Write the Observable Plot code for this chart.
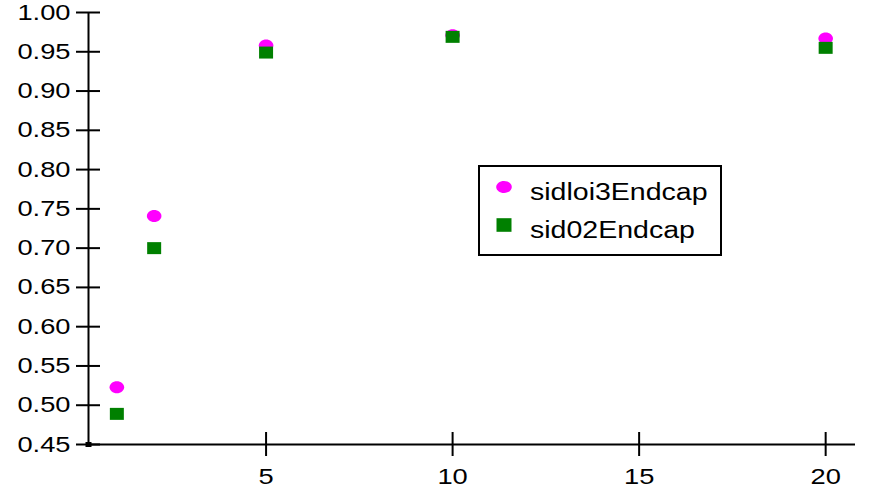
<!DOCTYPE html>
<html>
<head>
<meta charset="utf-8">
<script src="https://cdn.jsdelivr.net/npm/d3@7"></script>
<script src="https://cdn.jsdelivr.net/npm/@observablehq/plot@0.6"></script>
<style>
  html, body { margin: 0; padding: 0; background: #fff; }
  #chart { position: relative; width: 869px; height: 493px; }
  #chart svg { display: block; }
  #legend { position: absolute; }
</style>
</head>
<body>
<div id="chart"></div>
<script>
// Efficiency vs. x for the two endcap geometries
const xValues = [1, 2, 5, 10, 20];
const sidloi3Endcap = [0.523, 0.741, 0.958, 0.971, 0.967];
const sid02Endcap   = [0.489, 0.700, 0.949, 0.969, 0.955];

const seriesNames  = ["sidloi3Endcap", "sid02Endcap"];
const seriesColors = ["#ff00ff", "#008000"];
const seriesShapes = ["ellipse", "rect"];

const xTicks = [5, 10, 15, 20];
const yTicks = [0.45, 0.50, 0.55, 0.60, 0.65, 0.70, 0.75, 0.80, 0.85, 0.90, 0.95, 1.00];
const xDomain = [0.24, 20.8];
const yDomain = [0.45, 1.00];

// Horizontal stretch applied to all text glyphs
const STRETCH = 1.24;

// Custom marker shapes (slightly wider than tall)
function ellipseSymbol(rx, ry) {
  const k = 0.5523;
  return {
    draw(ctx) {
      ctx.moveTo(rx, 0);
      ctx.bezierCurveTo(rx, ry * k, rx * k, ry, 0, ry);
      ctx.bezierCurveTo(-rx * k, ry, -rx, ry * k, -rx, 0);
      ctx.bezierCurveTo(-rx, -ry * k, -rx * k, -ry, 0, -ry);
      ctx.bezierCurveTo(rx * k, -ry, rx, -ry * k, rx, 0);
      ctx.closePath();
    }
  };
}
function rectSymbol(hw, hh) {
  return {
    draw(ctx) {
      ctx.moveTo(-hw, -hh);
      ctx.lineTo(hw, -hh);
      ctx.lineTo(hw, hh);
      ctx.lineTo(-hw, hh);
      ctx.closePath();
    }
  };
}
const symbols = {ellipse: ellipseSymbol(7.3, 6), rect: rectSymbol(7, 6)};

const seriesValues = [sidloi3Endcap, sid02Endcap];
const series = seriesNames.map((name, i) => ({
  name,
  color: seriesColors[i],
  shape: seriesShapes[i],
  points: xValues.map((x, j) => ({x, y: seriesValues[i][j]}))
}));

const plot = Plot.plot({
  width: 869,
  height: 493,
  marginLeft: 88,
  marginRight: 14,
  marginTop: 12,
  marginBottom: 49,
  style: {fontFamily: "'Liberation Sans', Arial, sans-serif", fontSize: "22px", color: "#000", background: "#fff"},
  x: {domain: xDomain, label: null},
  y: {domain: yDomain, label: null},
  marks: [
    Plot.ruleX([xDomain[0]], {stroke: "#000", strokeWidth: 2}),
    Plot.ruleY([yDomain[0]], {stroke: "#000", strokeWidth: 2}),
    Plot.axisY({ticks: yTicks, tickSize: 24, dx: 12, tickPadding: 6, tickFormat: d3.format(".2f"),
                stroke: "#000", strokeWidth: 2, fill: "#000", label: null}),
    Plot.axisX({ticks: xTicks, tickSize: 24, dy: -12, tickPadding: 12, tickFormat: d3.format("d"),
                stroke: "#000", strokeWidth: 2, fill: "#000", label: null}),
    ...series.map(s => Plot.dot(s.points, {x: "x", y: "y", fill: s.color, stroke: null, symbol: symbols[s.shape], r: 6})),
    Plot.dot([{}], {x: () => xDomain[0], y: () => yDomain[0], fill: "#000", stroke: null, symbol: rectSymbol(3, 2.5)})
  ]
});

const chart = document.getElementById("chart");
chart.appendChild(plot);

// Legend box drawn inside the plotting area
const legend = d3.create("svg")
  .attr("id", "legend")
  .attr("width", 244)
  .attr("height", 91)
  .style("left", "478px")
  .style("top", "165px")
  .style("font-family", "'Liberation Sans', Arial, sans-serif")
  .style("font-size", "23px");
legend.append("rect")
  .attr("x", 1).attr("y", 1).attr("width", 242).attr("height", 89)
  .attr("fill", "#fff").attr("stroke", "#000").attr("stroke-width", 2);
series.forEach((s, i) => {
  const cy = 22 + i * 38;
  const sym = s.shape === "ellipse" ? ellipseSymbol(7.8, 6) : rectSymbol(7.5, 6.8);
  const p = d3.path();
  sym.draw(p);
  legend.append("path")
    .attr("transform", `translate(26,${cy})`)
    .attr("d", p.toString())
    .attr("fill", s.color);
  legend.append("text")
    .attr("x", 52).attr("y", cy + 13)
    .attr("fill", "#000")
    .text(s.name);
});
chart.appendChild(legend.node());

// Widen glyphs of every label
chart.querySelectorAll("text").forEach(t => {
  const len = t.getComputedTextLength();
  if (len > 0) {
    t.setAttribute("textLength", (len * STRETCH).toFixed(2));
    t.setAttribute("lengthAdjust", "spacingAndGlyphs");
  }
});
</script>
</body>
</html>
